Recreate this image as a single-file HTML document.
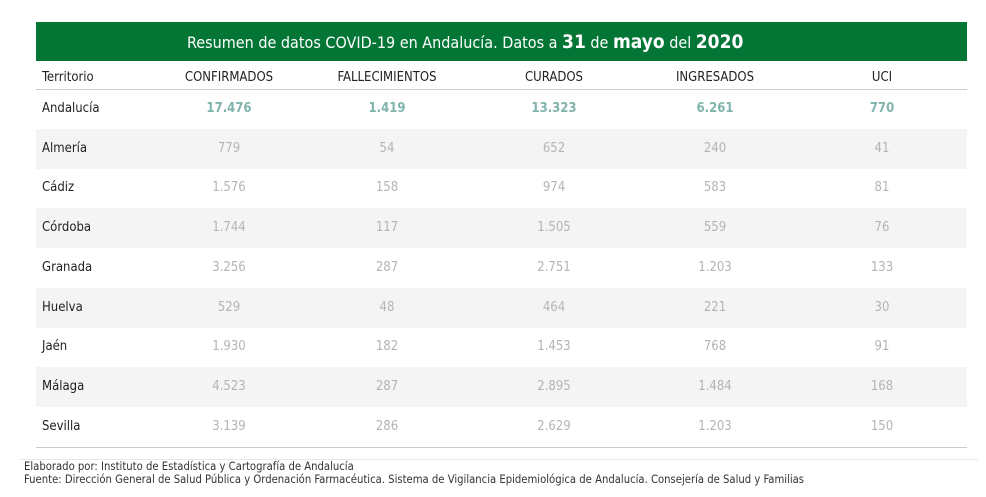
<!DOCTYPE html>
<html><head><meta charset="utf-8"><style>
body{margin:0;width:986px;height:497px;background:#fff;font-family:"DejaVu Sans Condensed","Liberation Sans",sans-serif;position:relative;overflow:hidden}
.hdr{position:absolute;left:36px;top:22px;width:931px;height:39px;background:#037636;color:#fff;font-size:16px;line-height:41px}
.hdr div{position:absolute;left:151px;top:0;white-space:nowrap}
.hdr b{font-size:19px}
.row{position:absolute;left:36px;width:931px;height:40px;font-size:13px}
.row span{position:absolute;top:0;line-height:40px;transform:translateX(-50%);color:#b4b4b4}
.row span.t{transform:none;left:6px;color:#222}
.g{background:#f4f4f4}
.a span{color:#7fb3ac;font-weight:bold}
.a span.t{font-weight:normal}
.th{position:absolute;left:36px;width:931px;top:62px;height:27px;border-bottom:1px solid #ccc;font-size:13px}
.th span{position:absolute;line-height:31px;transform:translateX(-50%);color:#222}
.th span.t{transform:none;left:6px}
.foot{position:absolute;left:24px;font-size:11.2px;color:#333;white-space:nowrap}
</style></head><body>
<div class="hdr"><div>Resumen de datos COVID-19 en Andalucía. Datos a <b>31</b> de <b>mayo</b> del <b>2020</b></div></div>
<div class="th"><span class="t">Territorio</span><span style="left:193px">CONFIRMADOS</span><span style="left:351px">FALLECIMIENTOS</span><span style="left:518px">CURADOS</span><span style="left:679px">INGRESADOS</span><span style="left:846px">UCI</span></div>
<div class="row a" style="top:89px"><span class="t">Andalucía</span><span style="left:193px">17.476</span><span style="left:351px">1.419</span><span style="left:518px">13.323</span><span style="left:679px">6.261</span><span style="left:846px">770</span></div>
<div class="row g" style="top:129px"><span class="t">Almería</span><span style="left:193px">779</span><span style="left:351px">54</span><span style="left:518px">652</span><span style="left:679px">240</span><span style="left:846px">41</span></div>
<div class="row" style="top:168px"><span class="t">Cádiz</span><span style="left:193px">1.576</span><span style="left:351px">158</span><span style="left:518px">974</span><span style="left:679px">583</span><span style="left:846px">81</span></div>
<div class="row g" style="top:208px"><span class="t">Córdoba</span><span style="left:193px">1.744</span><span style="left:351px">117</span><span style="left:518px">1.505</span><span style="left:679px">559</span><span style="left:846px">76</span></div>
<div class="row" style="top:248px"><span class="t">Granada</span><span style="left:193px">3.256</span><span style="left:351px">287</span><span style="left:518px">2.751</span><span style="left:679px">1.203</span><span style="left:846px">133</span></div>
<div class="row g" style="top:288px"><span class="t">Huelva</span><span style="left:193px">529</span><span style="left:351px">48</span><span style="left:518px">464</span><span style="left:679px">221</span><span style="left:846px">30</span></div>
<div class="row" style="top:327px"><span class="t">Jaén</span><span style="left:193px">1.930</span><span style="left:351px">182</span><span style="left:518px">1.453</span><span style="left:679px">768</span><span style="left:846px">91</span></div>
<div class="row g" style="top:367px"><span class="t">Málaga</span><span style="left:193px">4.523</span><span style="left:351px">287</span><span style="left:518px">2.895</span><span style="left:679px">1.484</span><span style="left:846px">168</span></div>
<div class="row" style="top:407px;border-bottom:1px solid #ccc"><span class="t">Sevilla</span><span style="left:193px">3.139</span><span style="left:351px">286</span><span style="left:518px">2.629</span><span style="left:679px">1.203</span><span style="left:846px">150</span></div>
<div style="position:absolute;left:20px;top:459px;width:958px;height:1px;background:#e8e8e8"></div>
<div class="foot" style="top:460px">Elaborado por: Instituto de Estadística y Cartografía de Andalucía</div>
<div class="foot" style="top:473px">Fuente: Dirección General de Salud Pública y Ordenación Farmacéutica. Sistema de Vigilancia Epidemiológica de Andalucía. Consejería de Salud y Familias</div>
</body></html>
